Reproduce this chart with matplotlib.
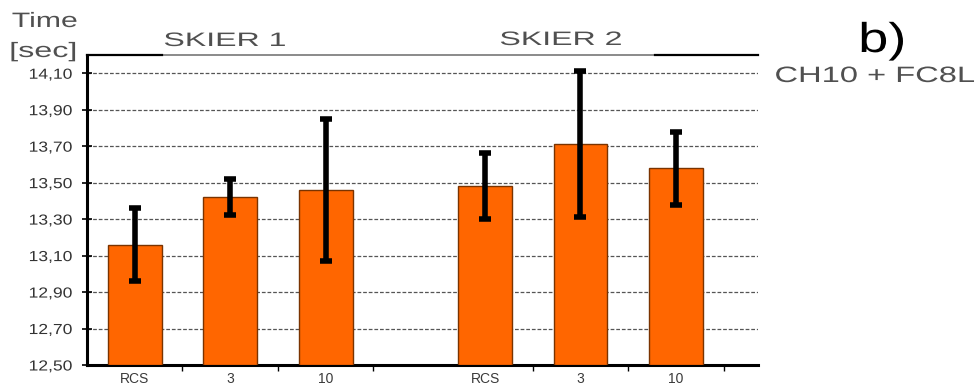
import matplotlib
matplotlib.use("Agg")
import matplotlib.pyplot as plt
from matplotlib.lines import Line2D
from matplotlib.patheffects import AbstractPathEffect
from matplotlib.transforms import Affine2D

plt.rcParams['font.family'] = ['Liberation Sans', 'DejaVu Sans']

# Data
groups = ["SKIER 1", "SKIER 2"]
categories = ["RCS", "3", "10"]
skier1_mean = [13.16, 13.42, 13.46]
skier1_err = [0.20, 0.10, 0.39]
skier2_mean = [13.48, 13.71, 13.58]
skier2_err = [0.18, 0.40, 0.20]
y_ticks = [12.50, 12.70, 12.90, 13.10, 13.30, 13.50, 13.70, 13.90, 14.10]


class HStretch(AbstractPathEffect):
    """Draw text glyphs widened horizontally about a chosen anchor."""

    def __init__(self, sx, anchor="left"):
        super().__init__()
        self.sx = sx
        self.anchor = anchor

    def draw_path(self, renderer, gc, tpath, affine, rgbFace=None):
        ext = tpath.get_extents(affine)
        if self.anchor == "left":
            x0 = ext.x0
        elif self.anchor == "right":
            x0 = ext.x1
        else:
            x0 = 0.5 * (ext.x0 + ext.x1)
        t = affine + Affine2D().translate(-x0, 0).scale(self.sx, 1).translate(x0, 0)
        renderer.draw_path(gc, tpath, t, rgbFace)


W, H = 978, 390
fig = plt.figure(figsize=(W / 100, H / 100), dpi=100)
ax = fig.add_axes([87 / W, 25 / H, (758 - 87) / W, (365 - 55) / H])

offsets = [0.0, 3.67]
width = 0.565
orange = "#FF6600"
edge = "#7A3300"

label_pos = []
boundary_pos = []
for off, means, errs in zip(offsets, [skier1_mean, skier2_mean], [skier1_err, skier2_err]):
    xs = [off + 0.5 + i for i in range(len(categories))]
    ax.bar(xs, [m - 12.5 for m in means], bottom=12.5, width=width,
           color=orange, edgecolor=edge, linewidth=1.0, zorder=3)
    ax.errorbar(xs, means, yerr=errs, fmt="none", ecolor="black",
                elinewidth=4.0, capsize=4, capthick=4.0, zorder=4)
    label_pos += xs
    boundary_pos += [off + 1 + i for i in range(len(categories))]

ax.set_xlim(0, 7.03)
ax.set_ylim(12.5, 14.2)

# y axis
ax.set_yticks(y_ticks)
ax.set_yticklabels([f"{v:.2f}".replace(".", ",") for v in y_ticks],
                   fontsize=10.5, color="#333333",
                   path_effects=[HStretch(1.2, "right")])
ax.tick_params(axis="y", direction="inout", length=7, width=1.2, pad=7)

# x axis: ticks at slot boundaries, labels under the bars
ax.set_xticks(boundary_pos)
ax.set_xticklabels([])
ax.tick_params(axis="x", which="major", direction="out", length=4, width=1.0)
ax.set_xticks(label_pos, minor=True)
ax.set_xticklabels(categories * 2, minor=True, fontsize=10, color="#3a3a3a")
ax.tick_params(axis="x", which="minor", length=0, pad=5)

for v in y_ticks[1:]:
    ax.axhline(v, color="#555555", linestyle=(0, (3, 1.5)), linewidth=0.9, zorder=1)

for s in ["top", "right"]:
    ax.spines[s].set_visible(False)
ax.spines["left"].set_linewidth(2.2)
ax.spines["bottom"].set_linewidth(2.2)

# frame line along the top
ax.add_line(Line2D([0, 7.03], [14.2, 14.2], color="#777777", linewidth=1.2,
                   clip_on=False, zorder=5))
ax.add_line(Line2D([0, (162 - 87) / 95.5], [14.2, 14.2], color="black",
                   linewidth=1.6, clip_on=False, zorder=6))
ax.add_line(Line2D([(655 - 87) / 95.5, 7.03], [14.2, 14.2], color="black",
                   linewidth=1.6, clip_on=False, zorder=6))

# annotations
grey = "#505050"
fig.text(225 / W, 1 - 46 / H, groups[0], fontsize=14, color=grey,
         ha="center", va="baseline", path_effects=[HStretch(1.65, "center")])
fig.text(561 / W, 1 - 45 / H, groups[1], fontsize=14, color=grey,
         ha="center", va="baseline", path_effects=[HStretch(1.65, "center")])
fig.text(12 / W, 1 - 27 / H, "Time", fontsize=15, color=grey,
         ha="left", va="baseline", path_effects=[HStretch(1.45, "left")])
fig.text(10 / W, 1 - 57 / H, "[sec]", fontsize=15, color=grey,
         ha="left", va="baseline", path_effects=[HStretch(1.55, "left")])
fig.text(859 / W, 1 - 52 / H, "b)", fontsize=30, color="black",
         ha="left", va="baseline", path_effects=[HStretch(1.3, "left")])
fig.text(775 / W, 1 - 82 / H, "CH10 + FC8L", fontsize=16, color=grey,
         ha="left", va="baseline", path_effects=[HStretch(1.47, "left")])

fig.savefig("out.png", dpi=100)
